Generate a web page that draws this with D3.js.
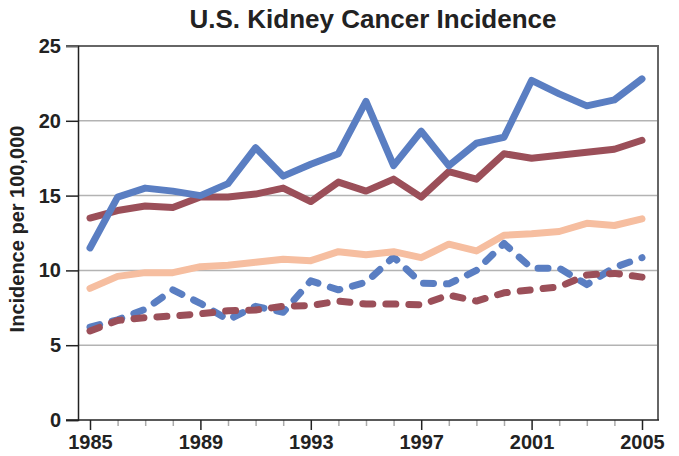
<!DOCTYPE html>
<html>
<head>
<meta charset="utf-8">
<script src="https://cdn.jsdelivr.net/npm/d3@7"></script>
<style>
  html, body { margin: 0; padding: 0; background: #fff; }
  svg { display: block; font-family: "Liberation Sans", Arial, Helvetica, sans-serif; }
</style>
</head>
<body>
<svg id="chart" width="679" height="456"></svg>
<script>
const years = d3.range(1985, 2006);
const yTicks = [0, 5, 10, 15, 20, 25];
const xTickLabels = [1985, 1989, 1993, 1997, 2001, 2005];

const solidBlue = [11.5, 14.9, 15.5, 15.3, 15.0, 15.8, 18.2, 16.3, 17.1, 17.8, 21.3, 17.0, 19.3, 17.0, 18.5, 18.9, 22.7, 21.8, 21.0, 21.4, 22.8];
const solidRed  = [13.5, 14.0, 14.3, 14.2, 14.9, 14.9, 15.1, 15.5, 14.6, 15.9, 15.3, 16.1, 14.9, 16.6, 16.1, 17.8, 17.5, 17.7, 17.9, 18.1, 18.7];
const peach     = [8.8, 9.6, 9.85, 9.85, 10.25, 10.35, 10.55, 10.75, 10.65, 11.25, 11.05, 11.25, 10.85, 11.75, 11.3, 12.35, 12.45, 12.6, 13.15, 13.0, 13.45];
const dashBlue  = [6.2, 6.7, 7.4, 8.7, 7.8, 6.7, 7.6, 7.2, 9.3, 8.7, 9.2, 10.9, 9.15, 9.1, 10.0, 11.8, 10.15, 10.15, 9.05, 10.2, 10.85];
const dashRed   = [5.95, 6.65, 6.85, 6.95, 7.1, 7.3, 7.35, 7.6, 7.65, 7.95, 7.75, 7.75, 7.7, 8.35, 7.95, 8.5, 8.7, 8.9, 9.7, 9.8, 9.55];

const seriesList = [
  { name: "dashBlue", values: dashBlue, color: "#5A7EC2", dash: "10,13" },
  { name: "dashRed", values: dashRed, color: "#9B4F59", dash: "10,13" },
  { name: "peach", values: peach, color: "#F6BEA0", dash: null },
  { name: "solidRed", values: solidRed, color: "#9B4F59", dash: null },
  { name: "solidBlue", values: solidBlue, color: "#5A7EC2", dash: null }
];

const svg = d3.select("#chart");
const pLeft = 78, pRight = 658, pTop = 46, pBottom = 420;

const x = d3.scaleLinear().domain([1985, 2005]).range([90, 642]);
const y = d3.scaleLinear().domain([0, 25]).range([pBottom, pTop]);

// gridlines
svg.append("g").selectAll("line").data(yTicks.filter(d => d > 0 && d < 25)).join("line")
  .attr("x1", pLeft).attr("x2", pRight)
  .attr("y1", d => y(d)).attr("y2", d => y(d))
  .attr("stroke", "#b3b3b3").attr("stroke-width", 1.5);

// top and right border
svg.append("line").attr("x1", pLeft - 12).attr("x2", pRight + 1)
  .attr("y1", y(25)).attr("y2", y(25)).attr("stroke", "#666").attr("stroke-width", 2);
svg.append("line").attr("x1", pRight).attr("x2", pRight)
  .attr("y1", pTop).attr("y2", pBottom).attr("stroke", "#666").attr("stroke-width", 2);

// y axis
const yAxis = d3.axisLeft(y).tickValues(yTicks).tickSize(12).tickPadding(5);
const gy = svg.append("g").attr("transform", `translate(${pLeft},0)`).call(yAxis);
gy.select(".domain").attr("stroke", "#222").attr("stroke-width", 1.5);
gy.selectAll(".tick line").attr("stroke", "#222").attr("stroke-width", 1.5);
gy.selectAll(".tick text").attr("font-size", 20).attr("font-weight", "bold").attr("fill", "#222")
  .attr("font-family", "Liberation Sans, Arial, sans-serif");
gy.select(".tick:last-of-type line").attr("stroke", "#666");

// x axis
const xMinor = d3.axisBottom(x).tickValues(years.filter(d => !xTickLabels.includes(d))).tickSize(6).tickFormat("");
const gxm = svg.append("g").attr("transform", `translate(0,${pBottom})`).call(xMinor);
gxm.select(".domain").remove();
gxm.selectAll(".tick line").attr("stroke", "#aaa").attr("stroke-width", 1.5);

const xMajor = d3.axisBottom(x).tickValues(xTickLabels).tickSize(10).tickPadding(5).tickFormat(d3.format("d"));
const gx = svg.append("g").attr("transform", `translate(0,${pBottom})`).call(xMajor);
gx.select(".domain").remove();
gx.selectAll(".tick line").attr("stroke", "#222").attr("stroke-width", 1.5);
gx.selectAll(".tick text").attr("font-size", 20).attr("font-weight", "bold").attr("fill", "#222")
  .attr("font-family", "Liberation Sans, Arial, sans-serif");

svg.append("line").attr("x1", pLeft - 12).attr("x2", pRight + 1)
  .attr("y1", pBottom).attr("y2", pBottom).attr("stroke", "#222").attr("stroke-width", 1.5);

// lines
const line = d3.line().x((d, i) => x(years[i])).y(d => y(d));
svg.append("g").selectAll("path").data(seriesList).join("path")
  .attr("d", d => line(d.values))
  .attr("fill", "none")
  .attr("stroke", d => d.color)
  .attr("stroke-width", 7)
  .attr("stroke-linecap", "round")
  .attr("stroke-linejoin", "round")
  .attr("stroke-dasharray", d => d.dash);

// title
svg.append("text").attr("x", 373).attr("y", 28).attr("text-anchor", "middle")
  .attr("font-size", 26).attr("font-weight", "bold").attr("fill", "#222")
  .text("U.S. Kidney Cancer Incidence");

// y label
svg.append("text").attr("transform", "translate(24,229) rotate(-90)").attr("text-anchor", "middle")
  .attr("font-size", 20).attr("font-weight", "bold").attr("fill", "#222")
  .text("Incidence per 100,000");
</script>
</body>
</html>
